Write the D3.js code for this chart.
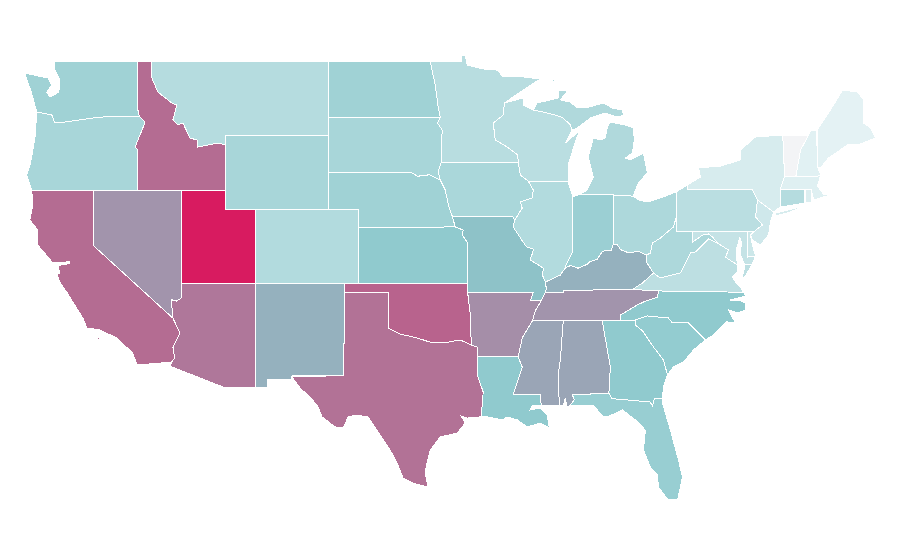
<!DOCTYPE html>
<html>
<head>
<meta charset="utf-8">
<script src="https://cdn.jsdelivr.net/npm/d3@7"></script>
<style>
  html, body { margin: 0; background: #fff; }
  svg { display: block; }
  path { shape-rendering: crispEdges; }
</style>
</head>
<body>
<div id="map"></div>
<script>
// value per state
const stateNames = ['VT','ME','NH','MA','RI','NY','NJ','DE','DC','MD','CT','PA','VA','MN','WI','MI','IL','IA','OH','WV','MT','CO','WY','SD','ND','NE','OR','WA','IN','FL','KS','LA','GA','SC','NC','MO','KY','NM','MS','AL','TN','AR','NV','AZ','TX','CA','ID','OK','UT'];
const stateValues = [0,6,7,8,9,11,14,15,20,18,24,22,21,23,22,26,25,28,27,27,24,25,29,29,32,32,29,32,34,35,38,38,38,37,38,42,48,48,52,52,58,60,58,68,70,72,72,75,100];

const colorStops = [0, 6, 40, 100];
const colorRange = ['#f3f4f6', '#e4f2f4', '#8bc8cc', '#d81b60'];

// shared borders, lon/lat
const stCroix = [[-92.1,46.73],[-92.18,46.08],[-92.86,45.65],[-92.72,44.73],[-91.9,44.35],[-91.2,43.92],[-91.16,43.54]];
const mnWaters = [[-97.15,49],[-95.04,49],[-95.04,49.32],[-94.76,49.32],[-94.63,48.78],[-93.54,48.57],[-92.59,48.51],[-92.18,48.14],[-90.82,48.14],[-89.66,48.03],[-90.82,47.43],[-92.1,46.73]];
const wiIa = [[-91.16,43.54],[-91.02,42.84],[-90.48,42.51]];
const ilIa = [[-90.48,42.51],[-90.14,42.03],[-90.2,41.6],[-91.02,41.38],[-90.89,41.05],[-91.4,40.4]];
const ilMo = [[-91.4,40.4],[-91.5,40.03],[-90.9,39.3],[-90.6,38.95],[-90.12,38.83],[-90.2,38.6],[-90.35,38.25],[-89.46,37.81],[-89.5,37.4],[-89.32,37.05]];
const kyMo = [[-89.32,37.05],[-89.25,36.7],[-89.32,36.5]];
const tnMo = [[-89.32,36.5],[-89.6,36.03]];
const arTn = [[-89.6,36.03],[-90.0,35.5],[-90.2,34.95]];
const arMs = [[-90.2,34.95],[-90.89,34.03],[-91.16,33.0]];
const laMs = [[-91.16,33.0],[-90.89,32.46],[-91.5,31.0],[-89.66,31.0],[-89.6,30.4]];
const ilKy = [[-89.32,37.05],[-88.3,37.43],[-87.96,37.81]];
const ilIn = [[-87.96,37.81],[-87.9,38.0],[-87.45,38.7],[-87.45,39.35],[-87.45,41.65]];
const inKy = [[-87.96,37.81],[-87.6,37.95],[-87.1,37.8],[-86.5,38.0],[-86.3,38.15],[-85.8,38.28],[-85.43,38.72],[-84.82,38.78],[-84.7,39.1]];
const kyOh = [[-84.7,39.1],[-84.45,39.1],[-84.2,38.8],[-83.65,38.63],[-83.0,38.72],[-82.45,38.51]];
const ohWv = [[-82.45,38.51],[-82.18,38.62],[-82.04,39.16],[-81.5,39.43],[-80.61,40.03],[-80.38,40.68]];
const kyWv = [[-82.45,38.51],[-82.45,38.14],[-81.97,37.54]];
const kyVa = [[-81.97,37.54],[-82.72,37.0],[-83.4,36.65]];
const kyTn = [[-83.4,36.65],[-88.07,36.6],[-88.07,36.5],[-89.32,36.5]];
const tnVa = [[-83.4,36.65],[-81.63,36.57]];
const ncTn = [[-81.63,36.57],[-81.7,36.24],[-82.65,35.97],[-83.07,35.81],[-83.88,35.43],[-84.22,35.27],[-84.22,35.0]];
const msTn = [[-90.2,34.95],[-88.1,34.95]];
const alTn = [[-88.1,34.95],[-85.45,34.95]];
const gaTn = [[-85.45,34.95],[-84.22,35.0]];
const alMs = [[-88.1,34.95],[-88.3,32.84],[-88.44,32.03],[-88.37,30.4]];
const alGa = [[-85.45,34.95],[-84.9,32.46],[-85.0,31.05]];
const alFl = [[-85.0,31.05],[-87.48,30.95],[-87.35,30.68],[-87.62,30.4]];
const flGa = [[-85.0,31.05],[-84.8,30.75],[-82.2,30.57],[-82.04,30.35],[-81.9,30.78],[-81.36,30.78]];
const gaNc = [[-84.22,35.0],[-83.2,35.0]];
const gaSc = [[-83.2,35.0],[-83.2,34.73],[-82.7,34.4],[-81.97,33.54],[-81.29,32.84],[-81.02,32.03]];
const ncSc = [[-83.2,35.0],[-82.38,35.22],[-80.96,35.11],[-80.68,34.84],[-79.6,34.84],[-78.44,33.92]];
const ncVa = [[-81.63,36.57],[-75.85,36.5]];
const ncCoast = [[-75.85,36.5],[-75.72,36.3],[-75.99,36.24],[-76.74,36.08],[-75.99,36.03],[-75.72,35.92],[-75.72,35.54],[-76.26,35.38],[-76.87,35.54],[-76.4,34.84],[-77.0,34.9],[-77.89,34.19],[-78.44,33.92]];
const scCoast = [[-78.44,33.92],[-79.25,33.38],[-79.93,32.73],[-80.61,32.46],[-81.02,32.03]];
const gaCoast = [[-81.02,32.03],[-81.29,31.38],[-81.36,30.78]];
const flCoast = [[-81.36,30.78],[-81.36,30.51],[-80.82,29.05],[-80.27,27.43],[-80.0,26.51],[-80.13,25.97],[-80.34,25.27],[-81.02,25.32],[-81.63,25.97],[-81.7,26.62],[-82.18,27.05],[-82.65,27.97],[-82.52,29.05],[-83.2,29.6],[-84.08,30.14],[-85.1,29.76],[-85.38,29.76],[-86.06,30.4],[-87.62,30.4]];
const alCoast = [[-87.62,30.4],[-87.85,30.3],[-87.96,30.78],[-88.1,30.35],[-88.37,30.4]];
const msCoast = [[-88.37,30.4],[-89.6,30.4]];
const laCoast = [[-89.6,30.4],[-90.2,30.4],[-90.34,30.14],[-89.66,30.24],[-89.19,29.86],[-89.05,29.16],[-89.66,29.43],[-90.55,29.22],[-91.23,29.6],[-91.91,29.76],[-92.25,29.6],[-93.27,29.76],[-93.67,29.8]];
const laTx = [[-93.67,29.8],[-93.54,31.11],[-93.95,32.03],[-93.95,33.02]];
const arLa = [[-93.95,33.02],[-91.16,33.0]];
const arTx = [[-93.95,33.02],[-93.95,33.54],[-94.35,33.65]];
const arOk = [[-94.35,33.65],[-94.43,35.4],[-94.6,36.5]];
const okRed = [[-94.35,33.65],[-95.1,33.92],[-96.26,33.76],[-97.14,33.8],[-98.03,34.03],[-99.19,34.24],[-100.0,34.57]];
const txSouth = [[-106.53,31.92],[-105.99,31.32],[-105.31,30.84],[-104.76,30.3],[-104.49,29.76],[-103.61,29.22],[-103.06,29.16],[-102.72,29.76],[-102.25,29.86],[-101.36,29.76],[-100.55,28.78],[-99.87,27.97],[-99.39,27.27],[-98.98,26.46],[-98.17,26.14],[-97.28,25.97],[-97.49,26.73],[-97.35,27.32],[-97.14,27.97],[-96.46,28.68],[-95.31,28.89],[-94.76,29.43],[-95.04,29.81],[-94.63,29.7],[-93.74,29.76],[-93.67,29.8]];
const riverMoKs = [[-95.44,40.03],[-94.9,39.86],[-94.97,39.6],[-94.6,39.16]];
const neIa = [[-95.65,40.62],[-95.9,41.2],[-96.12,42.03],[-96.46,42.57]];
const sdIa = [[-96.46,42.57],[-96.6,43.05],[-96.4,43.5]];
const sdMn = [[-96.4,43.5],[-96.33,45.27],[-96.65,45.65],[-96.46,45.97]];
const ndMn = [[-96.46,45.97],[-96.6,46.5],[-96.8,47.7],[-97.15,49]];
const neSd = [[-104.05,43],[-98.5,43],[-98.0,42.77],[-97.2,42.85],[-96.46,42.57]];
const idMt = [[-116.06,49],[-116.06,48.08],[-115.65,47.32],[-114.7,46.73],[-114.36,46.62],[-114.63,45.81],[-114.29,45.54],[-113.95,45.65],[-113.47,44.84],[-112.99,44.73],[-112.93,44.35],[-111.57,44.57],[-111.05,44.46]];
const idOr = [[-117.03,42],[-117.03,44.2],[-117.2,44.35],[-116.67,45.38],[-116.53,45.7],[-116.9,46.0]];
const idWa = [[-116.9,46.0],[-117.03,46.42],[-117.03,49]];
const orWa = [[-116.9,46.0],[-118.98,46.0],[-120.07,45.92],[-121.97,45.7],[-122.65,45.65],[-122.86,46.08],[-123.88,46.24]];
const caAz = [[-114.63,35.1],[-114.15,34.3],[-114.63,33.5],[-114.5,32.95],[-114.72,32.72]];
const azNv = [[-114.04,37],[-114.04,36.2],[-114.4,36.02],[-114.74,36.1],[-114.63,35.1]];
const caNv = [[-120,42],[-120,39],[-114.63,35.1]];
const miWi = [[-90.14,46.35],[-89.46,46.24],[-88.64,46.08],[-88.1,45.92],[-87.62,45.54],[-87.49,45.27]];
const paOh = [[-80.38,41.95],[-80.38,40.68]];
const nyPa = [[-79.66,42.03],[-75.24,42.03],[-74.9,41.49]];
const njPa = [[-74.9,41.49],[-75.03,40.57],[-74.56,40.14],[-75.17,39.76]];
const dePa = [[-75.17,39.76],[-75.58,39.76]];
const mdPa = [[-75.58,39.76],[-79.32,39.76]];
const paWv = [[-79.32,39.76],[-80.38,39.76],[-80.38,40.68]];
const mdWv = [[-79.32,39.76],[-79.32,39.2],[-78.64,39.59],[-78.24,39.65],[-77.96,39.49],[-77.62,39.16]];
const vaWv = [[-77.62,39.16],[-78.24,39.38],[-79.12,38.68],[-79.46,38.62],[-80.14,37.54],[-81.5,37.27],[-81.97,37.54]];
const mdVa = [[-77.62,39.16],[-76.87,38.78],[-77.08,38.4],[-76.26,37.97]];
const vtNy = [[-73.2,45],[-73.13,44.35],[-73.07,42.73]];
const vtNh = [[-71.43,45],[-71.97,44.19],[-72.3,42.73]];
const maNh = [[-72.3,42.73],[-70.95,42.73],[-70.6,42.84]];

const rev = (a) => a.slice().reverse();
const ring = (...parts) => parts.flat();

const stateShapes = {
  VT: [ring(vtNy, rev(vtNh))],
  ME: [[[-70.85,45.27],[-70.07,46.19],[-69.12,47.43],[-68.1,47.32],[-67.69,46.89],[-67.69,45.65],[-67.21,45.38],[-66.87,44.84],[-68.1,44.46],[-68.78,44.46],[-70.07,43.76],[-70.62,43.22],[-70.82,43.27]]],
  NH: [ring(vtNh, maNh, [[-70.82,43.27],[-70.88,45.27],[-71.29,45.27]])],
  MA: [ring([[-73.07,42.73],[-73.36,42.03],[-71.7,42.03],[-71.24,42.03],[-71.09,41.49],[-70.41,41.65],[-69.93,41.7],[-70.41,41.8],[-70.82,42.24]], rev(maNh))],
  RI: [[[-71.65,42.03],[-71.24,42.03],[-71.24,41.38],[-71.65,41.32]]],
  NY: [ring([[-79.66,42.3]], nyPa, [[-73.81,40.84],[-73.36,41.1],[-73.36,42.03]], rev(vtNy), [[-75.04,44.89],[-76.06,44.19],[-76.06,43.65],[-77.42,43.32],[-78.91,43.22],[-78.78,42.73]]),
       [[-73.68,40.62],[-73.68,40.78],[-71.77,41.16],[-72.66,40.84]]],
  NJ: [ring([[-74.9,41.49],[-73.81,40.84],[-74.02,40.3],[-74.15,39.6],[-74.7,39.05],[-75.24,39.32],[-75.38,39.6]], rev(njPa))],
  DE: [[[-75.58,39.76],[-75.17,39.76],[-75.38,39.6],[-75.24,39.05],[-75.03,38.46],[-75.58,38.4]]],
  DC: [[[-77.12,38.93],[-77.04,39.0],[-76.91,38.89],[-77.04,38.79]]],
  MD: [ring(rev(mdPa), [[-75.58,38.4],[-75.03,38.46],[-75.25,38.03],[-75.75,37.97],[-76.05,38.5],[-76.0,39.2],[-76.1,39.45],[-76.3,38.9],[-76.32,38.35]], rev(mdVa), rev(mdWv))],
  CT: [[[-73.36,42.03],[-71.7,42.03],[-71.7,41.32],[-73.36,41.1]]],
  PA: [ring(paOh.slice(0,1), [[-79.66,42.3]], nyPa, njPa, dePa, mdPa, paWv)],
  VA: [ring(tnVa, ncVa, [[-76.06,36.78],[-76.35,37.0],[-76.6,37.32],[-76.26,37.6]], rev(mdVa), vaWv, kyVa),
       [[-75.25,38.03],[-75.75,37.97],[-75.97,37.15],[-75.7,37.4]]],
  MN: [ring(mnWaters, stCroix, sdMn, ndMn)],
  WI: [ring([[-92.1,46.73],[-90.82,47.0],[-90.82,46.62]], miWi, [[-87.96,44.57],[-87.01,45.22],[-87.41,44.3],[-87.76,43.38],[-87.76,42.46]], rev(wiIa), rev(stCroix))],
  MI: [ring(miWi, [[-87.14,45.38],[-86.26,45.92],[-85.24,46.19],[-84.42,45.97],[-84.0,46.08],[-84.08,46.35],[-84.76,46.46],[-85.38,46.73],[-86.6,46.46],[-87.14,46.46],[-87.62,46.78],[-88.3,46.9],[-87.76,47.43],[-88.44,47.43],[-88.44,47.0],[-89.87,46.73]]),
       [[-86.94,41.81],[-84.7,41.8],[-84.7,41.72],[-83.34,41.7],[-83.0,42.41],[-82.38,42.95],[-82.65,44.03],[-83.54,43.65],[-83.88,43.76],[-83.4,44.03],[-83.27,44.73],[-83.34,45.38],[-83.88,45.54],[-84.9,45.7],[-85.1,45.43],[-85.24,44.84],[-85.58,44.73],[-86.06,44.84],[-86.4,43.81],[-86.06,42.73],[-86.47,42.03]],
       [[-88.98,47.86],[-88.58,48.08],[-88.51,48.03],[-88.85,47.86]]],
  IL: [ring([[-87.76,42.46]], rev(ilIn), rev(ilKy), rev(ilMo), rev(ilIa))],
  IA: [ring([[-96.4,43.5]], wiIa, ilIa, [[-91.57,40.62]], neIa, sdIa)],
  OH: [ring([[-84.7,41.72],[-83.34,41.7],[-83.0,41.49],[-82.38,41.38],[-81.29,41.65]], paOh, rev(ohWv), rev(kyOh))],
  WV: [ring(rev(paWv), mdWv, vaWv, rev(kyWv), ohWv)],
  MT: [ring(idMt, [[-111.05,45],[-104.05,45],[-104.05,49]])],
  CO: [[[-109.05,41],[-102.05,41],[-102.05,37],[-109.05,37]]],
  WY: [[[-111.05,45],[-104.05,45],[-104.05,41],[-111.05,41]]],
  SD: [ring([[-104.05,45.97]], rev(sdMn), rev(sdIa), rev(neSd))],
  ND: [ring([[-104.05,49]], rev(ndMn), [[-104.05,45.97]])],
  NE: [ring(neSd, rev(neIa), [[-95.44,40.03],[-102.05,40],[-102.05,41],[-104.05,41]])],
  OR: [ring(idOr, orWa, [[-124.0,44.9],[-124.3,43.5],[-124.56,42.84],[-124.22,42]])],
  WA: [ring([[-122.72,49]], rev(idWa), orWa, [[-124.25,47.3],[-124.7,48.35],[-123.13,48.08],[-122.86,47.7],[-123.2,47.32],[-122.99,47.05],[-122.38,47.32],[-122.32,47.97],[-122.65,48.51]])],
  IN: [ring([[-87.45,41.65],[-86.94,41.81],[-84.7,41.8]], rev(inKy), ilIn)],
  FL: [ring(flGa, flCoast, rev(alFl))],
  KS: [ring([[-102.05,40]], riverMoKs, [[-94.6,37],[-102.05,37]])],
  LA: [ring(arLa, laMs, laCoast, laTx)],
  GA: [ring(gaNc, gaSc, gaCoast, rev(flGa), rev(alGa), gaTn)],
  SC: [ring(ncSc, scCoast, rev(gaSc))],
  NC: [ring(ncVa, ncCoast, rev(ncSc), rev(gaNc), rev(ncTn))],
  MO: [ring([[-95.65,40.62],[-91.57,40.62]], ilMo, kyMo, tnMo, [[-90.34,36.03],[-90.14,36.5],[-94.6,36.5]], rev(riverMoKs))],
  KY: [ring(kyOh, kyWv, kyVa, kyTn, rev(kyMo), ilKy, inKy)],
  NM: [[[-109.05,37],[-103.0,37],[-103.0,33.75],[-103.06,33.75],[-103.06,32],[-106.53,32],[-106.6,31.78],[-108.2,31.78],[-108.2,31.33],[-109.05,31.33]]],
  MS: [ring(msTn, alMs, msCoast, rev(laMs), rev(arMs))],
  AL: [ring(alTn, alGa, alFl, alCoast, rev(alMs))],
  TN: [ring(rev(kyTn), tnVa, ncTn, rev(gaTn), rev(alTn), rev(msTn), rev(arTn), rev(tnMo))],
  AR: [ring([[-94.6,36.5],[-90.14,36.5],[-90.34,36.03]], arTn, arMs, rev(arLa), arTx, arOk)],
  NV: [ring([[-120,42],[-114.04,42]], azNv, rev(caNv))],
  AZ: [ring(azNv, caAz, [[-114.81,32.5],[-111.07,31.33],[-109.05,31.33],[-109.05,37]])],
  TX: [ring(okRed, [[-100,36.5],[-103.0,36.5],[-103.0,33.75],[-103.06,33.75],[-103.06,32]], txSouth, laTx, arTx)],
  CA: [ring(caNv, caAz, [[-117.08,32.57],[-117.35,33.2],[-118.44,34.03],[-119.6,34.46],[-120.48,34.57],[-120.75,35.1],[-121.84,36.5],[-122.32,37.05],[-122.5,37.5],[-122.45,37.55],[-122.3,37.5],[-122.45,37.95],[-121.64,38.05],[-121.64,38.15],[-122.5,38.1],[-122.79,38.08],[-123.81,39.05],[-123.81,39.86],[-124.35,40.4],[-124.15,41.2],[-124.22,42]]),
       [[-120.15,34.05],[-119.95,34.05],[-120.05,33.95]],[[-119.8,34.05],[-119.55,34.05],[-119.7,33.95]],[[-118.55,33.45],[-118.35,33.4],[-118.45,33.3]]],
  ID: [ring(idMt, [[-111.05,42]], idOr, idWa)],
  OK: [ring([[-103.0,37],[-94.6,37],[-94.6,36.5]], rev(arOk), okRed, [[-100,36.5],[-103.0,36.5]])],
  UT: [[[-114.05,42],[-111.05,42],[-111.05,41],[-109.05,41],[-109.05,37],[-114.05,37]]]
};

const width = 900;
const height = 560;

// the source map is a plain lon/lat plot, so degrees map straight to pixels
const x = d3.scaleLinear().domain([-109.05, -102.05]).range([255, 358]);
const y = d3.scaleLinear().domain([37, 41]).range([283, 209]);
const color = d3.scaleLinear().domain(colorStops).range(colorRange);

const projection = d3.geoTransform({
  point(lon, lat) { this.stream.point(x(lon), y(lat)); }
});
const path = d3.geoPath(projection);

const features = stateNames.map((name, i) => ({
  type: 'Feature',
  properties: { name, value: stateValues[i] },
  geometry: { type: 'MultiPolygon', coordinates: stateShapes[name].map((r) => [r.concat([r[0]])]) }
}));

const svg = d3.select('#map').append('svg')
  .attr('width', width)
  .attr('height', height);

svg.selectAll('path')
  .data(features)
  .join('path')
  .attr('d', path)
  .attr('fill', (d) => color(d.properties.value))
  .attr('stroke', '#fff')
  .attr('stroke-width', 1);
</script>
</body>
</html>
